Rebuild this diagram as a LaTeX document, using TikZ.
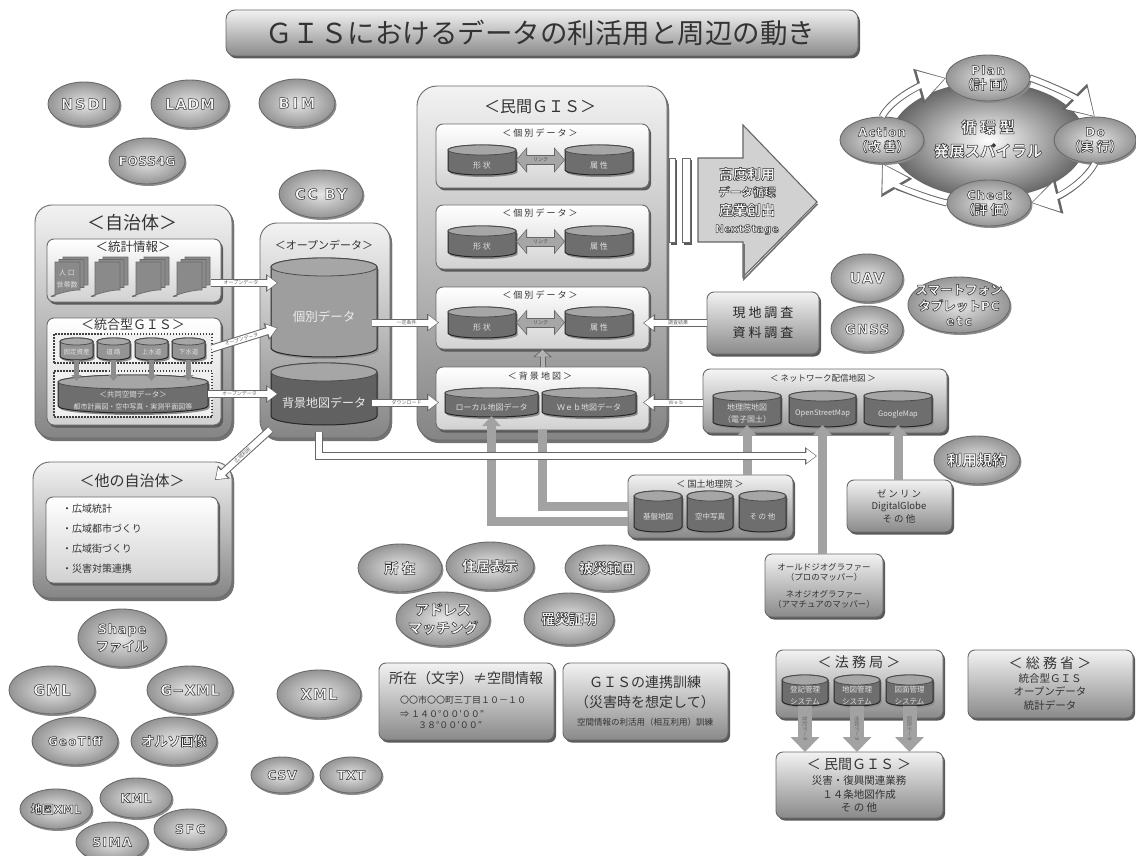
\documentclass[tikz,border=0pt]{standalone}
\usepackage{fontspec}
\setmainfont{Noto Sans CJK JP}
\newfontfamily\djv{DejaVu Sans}
\usetikzlibrary{shapes.geometric,arrows.meta,shadows,calc}
\definecolor{ink}{HTML}{333333}
\definecolor{rimc}{HTML}{6a6a6a}
\definecolor{shadc}{HTML}{5a5a5a}
\definecolor{bandc}{HTML}{666666}
\definecolor{greyar}{HTML}{a2a2a2}
\definecolor{cylbody}{HTML}{6e6e6e}
\definecolor{cyltop}{HTML}{a6a6a6}
\newcommand{\fs}[2]{\fontsize{#1}{#2}\selectfont}
\newcommand{\emb}[1]{{\bfseries\special{pdf:code q 2 Tr 0.5 w 0.2 0.2 0.2 RG 0.96 0.96 0.96 rg}#1\special{pdf:code Q}}}
% Latin in the same embossed look, wide and heavy
\newcommand{\embl}[2][10]{{\djv\bfseries\addfontfeature{LetterSpace=#1}\special{pdf:code q 2 Tr 0.5 w 0.2 0.2 0.2 RG 0.96 0.96 0.96 rg}#2\special{pdf:code Q}}}
\tikzset{
 base/.style={inner sep=0pt,outer sep=0pt},
 panel/.style={base,rectangle,draw=rimc,line width=0.9pt,rounded corners=7pt,top color=white,bottom color=black!18,
   general shadow={shadow xshift=2pt,shadow yshift=-2.5pt,fill=shadc}},
 bigpanel/.style={panel,rounded corners=17pt,top color=black!5,bottom color=black!48,
   general shadow={shadow xshift=2pt,shadow yshift=-3pt,fill=black!55}},
 midpanel/.style={panel,top color=black!5,bottom color=black!46},
 slim/.style={panel,rounded corners=0pt,top color=white,bottom color=white},
 oval/.style={base,ellipse,draw=rimc,line width=0.9pt,inner color=black!10,outer color=black!42,
   general shadow={shadow xshift=1.5pt,shadow yshift=-2pt,fill=black!45}},
 txt/.style={base,align=center,text=ink},
 lite/.style={base,align=center,text=black!12},
 tiny/.style={base,text=black!60,font=\fs{5}{6}},
 bandout/.style={line width=8pt,draw=bandc,-{Triangle[length=12pt,width=17pt]}},
 bandin/.style={line width=6pt,draw=white,-{Triangle[length=9.5pt,width=13.5pt]},shorten >=1.1pt,shorten <=-0.4pt},
 cycout/.style={line width=7pt,draw=bandc,-{Triangle[length=29pt,width=34pt]}},
 cycin/.style={line width=5pt,draw=white,-{Triangle[length=25pt,width=29pt]},shorten >=1.4pt,shorten <=0.4pt},
 greyarrow/.style={line width=9pt,draw=greyar,-{Triangle[length=10pt,width=18pt]}},
 thin grey/.style={line width=5pt,draw=black!45,-{Triangle[length=6pt,width=10pt]}},
 lawarrow/.style={line width=14pt,draw=greyar,-{Triangle[length=15pt,width=28pt]}},
 linkout/.style={line width=10pt,draw=bandc,{Triangle[length=11pt,width=25pt]}-{Triangle[length=11pt,width=25pt]}},
 linkin/.style={line width=8pt,draw=black!35,{Triangle[length=9pt,width=21pt]}-{Triangle[length=9pt,width=21pt]},shorten >=1pt,shorten <=1pt},
}
% box: [style]{name}{x1}{y1}{x2}{y2}
\newcommand{\pn}[6][panel]{%
 \pgfmathsetmacro\bW{#5-#3}\pgfmathsetmacro\bH{#6-#4}%
 \pgfmathsetmacro\bX{(#3+#5)/2}\pgfmathsetmacro\bY{(#4+#6)/2}%
 \node[#1,minimum width=\bW pt,minimum height=\bH pt] (#2) at (\bX,\bY) {};}
% ellipse: name cx cy rx ry text
\newcommand{\blob}[6]{%
 \pgfmathsetmacro\bW{2*#4}\pgfmathsetmacro\bH{2*#5}%
 \node[oval,minimum width=\bW pt,minimum height=\bH pt] (#1) at (#2,#3) {};
 \node[txt] (#1-t) at (#2,#3) {#6};}
% cylinder: [body colour]{name}{x1}{y1}{x2}{y2}{ry}{text}
\newcommand{\cylinder}[8][cylbody]{%
 \pgfmathsetmacro\cR{(#5-#3)/2}\pgfmathsetmacro\cX{(#3+#5)/2}%
 \pgfmathsetmacro\cT{#4+#7}\pgfmathsetmacro\cB{#6-#7}%
 \pgfmathsetmacro\cW{#5-#3}\pgfmathsetmacro\cH{#6-#4}\pgfmathsetmacro\cY{(#4+#6)/2}\pgfmathsetmacro\cM{(#4+2*#7+#6)/2}%
 \fill[black!45] (#3+1.5,\cT+2) -- (#3+1.5,\cB+2) arc[start angle=180,end angle=0,x radius=\cR,y radius=#7] -- (#5+1.5,\cT+2) -- cycle;
 \draw[fill=#1,draw=black!85,line width=1pt] (#3,\cT) -- (#3,\cB) arc[start angle=180,end angle=0,x radius=\cR,y radius=#7] -- (#5,\cT) arc[start angle=360,end angle=180,x radius=\cR,y radius=#7] -- cycle;
 \draw[fill=cyltop,draw=black!70,line width=0.8pt] (\cX,\cT) ellipse[x radius=\cR,y radius=#7];
 \node[base,minimum width=\cW pt,minimum height=\cH pt] (#2) at (\cX,\cY) {};
 \node[lite] (#2-t) at (\cX,\cM) {#8};}
% stack of sheets: name x y (front top-left)
\newcommand{\sheet}[2]{\draw[fill=black!46,draw=black!58,line width=0.7pt] (#1,#2) -- ++(25,0) -- ++(0,28) .. controls ++(-9,-1) and ++(-15,3) .. ++(-25,6) -- cycle;}
\newcommand{\docs}[3]{%
 \sheet{#2+8}{#3-5}\sheet{#2+4}{#3-2.5}\sheet{#2}{#3}%
 \pgfmathsetmacro\dX{#2+17}\pgfmathsetmacro\dY{#3+21}%
 \node[base,minimum width=34pt,minimum height=28pt] (#1) at (\dX,\dY) {};}
\begin{document}
\begin{tikzpicture}[x=1pt,y=1pt,yscale=-1]
\useasboundingbox (0,0) rectangle (1136,856);
\fill[white] (0,0) rectangle (1136,856);

% ---------- title
\pn[midpanel,rounded corners=9pt]{title}{226}{10}{858}{56}
\node[txt,font=\fs{27.5}{30}] (title-t) at (540,33) {ＧＩＳにおけるデータの利活用と周辺の動き};

% ---------- ovals
\blob{nsdi}{84}{104}{36}{22}{\fs{14.5}{16}\embl[14]{NSDI}}
\blob{ladm}{190}{104}{39}{24}{\fs{14.5}{16}\embl[6]{LADM}}
\blob{bim}{297}{103}{38}{24}{\fs{14.5}{16}\embl[20]{BIM}}
\blob{foss}{147}{161}{38}{23}{\fs{12.5}{15}\embl[2]{FOSS4G}}
\blob{ccby}{321}{194}{42}{24}{\fs{14.5}{16}\embl[12]{CC BY}}
\blob{uav}{867}{278}{36}{24}{\fs{14.5}{16}\embl[8]{UAV}}
\blob{gnss}{867}{329}{36}{23}{\fs{13.5}{16}\embl[8]{GNSS}}
\blob{smart}{959}{305}{51}{28}{\fs{12.5}{14}\emb{スマートフォン}\\[3pt]\fs{12.5}{14}\emb{タブレット}\embl[4]{PC}\\[3pt]\fs{12.5}{14}\embl[16]{etc}}
\blob{terms}{977}{460}{43}{24}{\fs{15}{17}\emb{利用規約}}
\blob{addr}{400}{568}{42}{24}{\fs{14}{16}\emb{所 在}}
\blob{resid}{490}{566}{44}{24}{\fs{14}{16}\emb{住居表示}}
\blob{damage}{607}{568}{42}{23}{\fs{14}{16}\emb{被災範囲}}
\blob{match}{443}{619}{47}{27}{\fs{14}{16}\emb{アドレス}\\[4pt]\fs{14}{16}\emb{マッチング}}
\blob{cert}{569}{619}{45}{26}{\fs{14}{16}\emb{罹災証明}}
\blob{shape}{122}{638}{44}{29}{\fs{13}{15}\embl[6]{Shape}\\[3pt]\fs{13}{15}\emb{ファイル}}
\blob{gml}{52}{690}{43}{24}{\fs{14.5}{16}\embl[6]{GML}}
\blob{gxml}{190}{690}{43}{24}{\fs{14}{16}\embl[4]{G−XML}}
\blob{tiff}{75}{741}{43}{24}{\fs{12}{15}\embl[10]{GeoTiff}}
\blob{ortho}{174}{741}{43}{24}{\fs{13}{15}\emb{オルソ画像}}
\blob{chizu}{56}{809}{36}{20}{\fs{11.5}{14}\emb{地図}\embl[0]{XML}}
\blob{kml}{136}{798}{36}{20}{\fs{12.5}{14}\embl[4]{KML}}
\blob{sfc}{190}{829}{36}{20}{\fs{12.5}{14}\embl[14]{SFC}}
\blob{sima}{112}{842}{36}{20}{\fs{12.5}{14}\embl[10]{SIMA}}
\blob{xml}{319}{694}{42}{24}{\fs{14.5}{16}\embl[6]{XML}}
\blob{csv}{282}{775}{31}{18}{\fs{12.5}{14}\embl[6]{CSV}}
\blob{txt}{351}{775}{31}{18}{\fs{12.5}{14}\embl[6]{TXT}}

% ---------- municipality panel
\pn[bigpanel]{city}{35}{205}{232}{438}
\node[txt,font=\fs{18}{20}] (city-t) at (132,223) {＜自治体＞};
\pn{stats}{47}{239}{221}{302}
\node[txt,font=\fs{12.5}{14}] (stats-t) at (133,247) {＜統計情報＞};
\docs{doc1}{55}{262}
\docs{doc2}{95}{262}
\docs{doc3}{136}{262}
\docs{doc4}{177}{262}
\node[lite,font=\fs{7}{12}] (doc1-t) at (67,279) {人 口\\世帯数};
\pn{igis}{47}{318}{221}{425}
\node[txt,font=\fs{13}{15}] (igis-t) at (133,325) {＜統合型ＧＩＳ＞};
\pn[base,draw=black!75,line width=1.1pt,dash pattern=on 1.5pt off 1.5pt,rectangle,fill=black!6]{dashA}{54}{334}{212}{363}
\pn[base,draw=black!75,line width=1.1pt,dash pattern=on 1.5pt off 1.5pt,rectangle,fill=black!6]{dashB}{54}{371}{212}{417}
\cylinder[black!42]{sA}{60}{338}{93}{360}{3.5}{\fs{6.5}{8}固定資産}
\cylinder[black!42]{sB}{97}{338}{130}{360}{3.5}{\fs{6.5}{8}道 路}
\cylinder[black!42]{sC}{135}{338}{168}{360}{3.5}{\fs{6.5}{8}上水道}
\cylinder[black!42]{sD}{172}{338}{205}{360}{3.5}{\fs{6.5}{8}下水道}
\cylinder{cyGis}{58}{375}{208}{413}{7}{\fs{7.5}{11}＜共同空間データ＞\\\fs{7}{9}都市計画図・空中写真・実測平面図等}
\draw[thin grey,shorten >=-6pt] (sA.south) -- (sA.south |- cyGis.north);
\draw[thin grey,shorten >=-6pt] (sB.south) -- (sB.south |- cyGis.north);
\draw[thin grey,shorten >=-6pt] (sC.south) -- (sC.south |- cyGis.north);
\draw[thin grey,shorten >=-6pt] (sD.south) -- (sD.south |- cyGis.north);

% ---------- other municipalities
\pn[bigpanel]{other}{33}{462}{232}{598}
\node[txt,font=\fs{15}{17}] (other-t) at (132,481) {＜他の自治体＞};
\pn{otherin}{46}{497}{218}{583}
\node[txt,font=\fs{10}{20},align=left,anchor=west] (otherlist) at (62,539) {・広域統計\\・広域都市づくり\\・広域街づくり\\・災害対策連携};

% ---------- open data
\pn[bigpanel]{open}{260}{223}{390}{438}
\node[txt,font=\fs{11}{13}] (open-t) at (324,245) {＜オープンデータ＞};
\cylinder[black!38]{cyKo}{271}{258}{377}{357}{9}{\fs{12.5}{15}\color{black!8}個別データ}
\cylinder[black!62]{cyBg}{271}{363}{377}{425}{9}{\fs{12}{15}\color{black!8}背景地図データ}

% ---------- private GIS
\pn[bigpanel,rounded corners=20pt]{priv}{417}{86}{667}{440}
\node[txt,font=\fs{16}{18}] (priv-t) at (540,107) {＜民間ＧＩＳ＞};
\pn{pA}{436}{124}{649}{188}
\pn{pB}{436}{205}{649}{269}
\pn{pC}{436}{287}{649}{349}
\pn{pD}{436}{367}{649}{430}
\node[txt,font=\fs{9}{11}] (pA-t) at (540,133) {＜ 個 別 デ ー タ ＞};
\node[txt,font=\fs{9}{11}] (pB-t) at (540,213) {＜ 個 別 デ ー タ ＞};
\node[txt,font=\fs{9}{11}] (pC-t) at (540,295) {＜ 個 別 デ ー タ ＞};
\node[txt,font=\fs{9}{11}] (pD-t) at (540,376) {＜ 背 景 地 図 ＞};
\cylinder{aS}{448}{145}{516}{175}{5}{\fs{8}{10}形 状}
\cylinder{aZ}{565}{145}{633}{175}{5}{\fs{8}{10}属 性}
\cylinder{bS}{448}{226}{516}{257}{5}{\fs{8}{10}形 状}
\cylinder{bZ}{565}{226}{633}{257}{5}{\fs{8}{10}属 性}
\cylinder{cS}{448}{307}{516}{338}{5}{\fs{8}{10}形 状}
\cylinder{cZ}{565}{307}{633}{338}{5}{\fs{8}{10}属 性}
\cylinder{cLocal}{445}{388}{538}{417}{5}{\fs{8}{10}ローカル地図データ}
\cylinder{cWeb}{542}{388}{636}{417}{5}{\fs{8}{10}Ｗｅｂ地図データ}
\foreach \pa/\pb/\lb in {aS/aZ/lkA,bS/bZ/lkB,cS/cZ/lkC}{
 \draw[linkout] (\pa.east) -- (\pb.west);
 \draw[linkin] (\pa.east) -- node[tiny,text=black!70] (\lb) {リンク} (\pb.west);
}
\draw[line width=6pt,draw=bandc,-{Triangle[length=8pt,width=18pt]}] (pD.north) -- (pC.south);
\draw[line width=4pt,draw=black!30,-{Triangle[length=6.5pt,width=14pt]},shorten >=1pt] (pD.north) -- (pC.south);

% ---------- slim bars and big arrow
\pn[slim]{barA}{669}{158}{675}{242}
\pn[slim]{barB}{682}{158}{690}{242}
\draw[draw=bandc,line width=1.1pt,fill=black!18] (698,158) -- (743,158) -- (743,125) -- (817,202) -- (743,277) -- (743,242) -- (698,242) -- cycle;
\draw[draw=black!55,line width=1.6pt] (817.5,204) -- (744,279) -- (744,244);
\node[txt] (nxt) at (747,201) {\fs{14}{17.5}\emb{高度利用}\\[5pt]\fs{11.5}{17.5}\emb{データ循環}\\[5pt]\fs{14}{17.5}\emb{産業創出}\\[5pt]\fs{10.5}{17.5}\embl[2]{NextStage}};

% ---------- survey
\pn[midpanel]{survey}{707}{292}{819}{354}
\node[txt,font=\fs{13}{20},text=black!85] (survey-t) at (763,323) {現 地 調 査\\資 料 調 査};

% ---------- network maps
\pn[midpanel,top color=black!4,bottom color=black!42]{net}{703}{369}{947}{433}
\node[txt,font=\fs{8.5}{10}] (net-t) at (823,378) {＜ ネットワーク配信地図 ＞};
\cylinder{nGeo}{713}{391}{781}{427}{5}{\fs{8}{10}地理院地図\\\fs{8}{10}（電子国土）}
\cylinder{nOsm}{789}{391}{856}{427}{5}{\fs{7.5}{10}OpenStreetMap}
\cylinder{nGm}{864}{391}{932}{427}{5}{\fs{7.5}{10}GoogleMap}

% ---------- gsi
\pn[midpanel]{gsi}{628}{475}{793}{538}
\node[txt,font=\fs{9}{11}] (gsi-t) at (710,484) {＜ 国土地理院 ＞};
\cylinder{gA}{634}{491}{682}{532}{5}{\fs{7.5}{10}基盤地図}
\cylinder{gB}{687}{491}{733}{532}{5}{\fs{7.5}{10}空中写真}
\cylinder{gC}{739}{491}{786}{532}{5}{\fs{7.5}{10}そ の 他}

\pn[midpanel]{zen}{847}{480}{952}{532}
\node[txt,font=\fs{9.5}{12.5}] (zen-t) at (899,506) {ゼ ン リ ン\\DigitalGlobe\\そ の 他};
\pn[midpanel]{geo}{765}{554}{883}{617}
\node[txt,font=\fs{8.5}{10}] (geo-a) at (824,572) {オールドジオグラファー\\（プロのマッパー）};
\node[txt,font=\fs{8.5}{10}] (geo-b) at (824,599) {ネオジオグラファー\\（アマチュアのマッパー）};

% ---------- info boxes
\pn[midpanel]{place}{379}{663}{554}{740}
\node[txt,font=\fs{14}{16}] (place-t) at (466,678) {所在（文字）≠空間情報};
\node[txt,font=\fs{9}{11},anchor=west] (place-a) at (400,700) {〇〇市〇〇町三丁目１０－１０};
\node[txt,font=\fs{9}{11},align=left,anchor=west] (place-b) at (400,720) {⇒ １４０°００′００″\\　　３８°００′００″};
\pn[midpanel]{drill}{563}{663}{728}{740}
\node[txt,font=\fs{14}{20}] (drill-t) at (645,692) {ＧＩＳの連携訓練\\（災害時を想定して）};
\node[txt,font=\fs{8.5}{10}] (drill-b) at (645,722) {空間情報の利活用（相互利用）訓練};

\pn[midpanel]{law}{776}{650}{943}{718}
\node[txt,font=\fs{14}{16}] (law-t) at (859,662) {＜ 法 務 局 ＞};
\cylinder{hA}{782}{675}{828}{706}{5}{\fs{7.5}{9.5}登記管理\\\fs{7.5}{9.5}システム}
\cylinder{hB}{834}{675}{880}{706}{5}{\fs{7.5}{9.5}地図管理\\\fs{7.5}{9.5}システム}
\cylinder{hC}{886}{675}{933}{706}{5}{\fs{7.5}{9.5}図面管理\\\fs{7.5}{9.5}システム}
\pn[midpanel]{lowpriv}{776}{752}{943}{818}
\node[txt,font=\fs{14}{16}] (lowpriv-t) at (859,764) {＜ 民間ＧＩＳ ＞};
\node[txt,font=\fs{10.5}{13.5}] (lowpriv-b) at (859,794) {災害・復興関連業務\\１４条地図作成\\そ の 他};
\pn[midpanel]{soumu}{968}{650}{1133}{718}
\node[txt,font=\fs{14}{16}] (soumu-t) at (1050,663) {＜ 総 務 省 ＞};
\node[txt,font=\fs{10.5}{13.5}] (soumu-b) at (1050,692) {統合型ＧＩＳ\\オープンデータ\\統計データ};

% ---------- grey connectors
\draw[greyarrow,shorten >=-1pt] (gsi.190) -| (cLocal.south);
\draw[greyarrow,-] (gsi.west) -| (pD.south);
\draw[greyarrow,shorten >=-2pt] (nGeo.south |- gsi.north) -- (nGeo.south);
\draw[greyarrow,shorten >=-2pt] (nOsm.south |- geo.north) -- (nOsm.south);
\draw[greyarrow,shorten >=-2pt] (nGm.south |- zen.north) -- (nGm.south);
\draw[lawarrow] (hA.south) -- node[tiny,rotate=-90] (lawA) {登記データ} (hA.south |- lowpriv.north);
\draw[lawarrow] (hB.south) -- node[tiny,rotate=-90] (lawB) {地図データ} (hB.south |- lowpriv.north);
\draw[lawarrow] (hC.south) -- node[tiny,rotate=-90] (lawC) {図面データ} (hC.south |- lowpriv.north);

% ---------- white band arrows
\draw[bandout,shorten >=-7pt] (doc4.east) -- (cyKo.west |- doc4.east);
\draw[bandin,shorten >=-5.9pt] (doc4.east) -- node[tiny] (oA) {オープンデータ} (cyKo.west |- doc4.east);
\draw[bandout,shorten >=-7pt] (dashA.east) -- (cyKo.203);
\draw[bandin,shorten >=-5.9pt] (dashA.east) -- node[tiny,rotate=15] (oB) {オープンデータ} (cyKo.203);
\draw[bandout,shorten >=-7pt] (cyGis.east) -- (cyBg.west);
\draw[bandin,shorten >=-5.9pt] (cyGis.east) -- node[tiny] (oC) {オープンデータ} (cyBg.west);
\draw[bandout,shorten <=-5pt,shorten >=-3pt] (cyKo.east |- cS.west) -- (pC.west |- cS.west);
\draw[bandin,shorten <=-4.6pt,shorten >=-1.9pt] (cyKo.east |- cS.west) -- node[tiny] (oD) {一定条件} (pC.west |- cS.west);
\draw[bandout,shorten <=-5pt,shorten >=-3pt] (cyBg.east |- cLocal.west) -- (pD.west |- cLocal.west);
\draw[bandin,shorten <=-4.6pt,shorten >=-1.9pt] (cyBg.east |- cLocal.west) -- node[tiny] (oE) {ダウンロード} (pD.west |- cLocal.west);
\draw[bandout,shorten >=-6pt] (survey.west) -- (pC.east |- survey.west);
\draw[bandin,shorten >=-4.9pt] (survey.west) -- node[tiny] (oF) {調査結果} (pC.east |- survey.west);
\draw[bandout,shorten >=-6pt] (net.west |- cWeb.east) -- (pD.east |- cWeb.east);
\draw[bandin,shorten >=-4.9pt] (net.west |- cWeb.east) -- node[tiny] (oG) {Ｗｅｂ} (pD.east |- cWeb.east);
\coordinate (openCorner) at (270,430);
\coordinate (otherIn) at (215,480);
\draw[bandout] (openCorner) -- (otherIn);
\draw[bandin] (openCorner) -- node[tiny,rotate=42] (oH) {広域利用} (otherIn);
\coordinate (longTip) at (817,456);
\draw[bandout,shorten <=-6pt] (open.267.3) |- (longTip);
\draw[bandin,shorten <=-6pt] (open.267.3) |- (longTip);

% ---------- PDCA cycle
\node[base,ellipse,minimum width=196pt,minimum height=116pt,inner color=white,outer color=black!60] (spiral) at (988,140) {};
\blob{plan}{988}{78}{42}{23}{\fs{12}{16}\embl[12]{Plan}\\[3pt]\fs{13}{16}\emb{（計 画）}}
\blob{act}{882}{140}{42}{23}{\fs{12}{16}\embl[8]{Action}\\[3pt]\fs{13}{16}\emb{（改 善）}}
\blob{dodo}{1095}{140}{41}{23}{\fs{12}{16}\embl[12]{Do}\\[3pt]\fs{13}{16}\emb{（実 行）}}
\blob{check}{989}{203}{42}{23}{\fs{12}{16}\embl[8]{Check}\\[3pt]\fs{13}{16}\emb{（評 価）}}
\foreach \st in {cycout,cycin}{
 \draw[\st] (plan.east) .. controls (1050,85) and (1075,97) .. (dodo.north);
 \draw[\st] (dodo.south) .. controls (1085,182) and (1060,196) .. (check.east);
 \draw[\st] (check.west) .. controls (925,198) and (895,185) .. (act.south);
 \draw[\st] (act.north) .. controls (892,98) and (922,85) .. (plan.west);
}
\node[txt] (spiral-t) at (988,139) {\fs{15.5}{20}\emb{循 環 型}\\[8pt]\fs{15.5}{20}\emb{発展スパイラル}};
\end{tikzpicture}
\end{document}
